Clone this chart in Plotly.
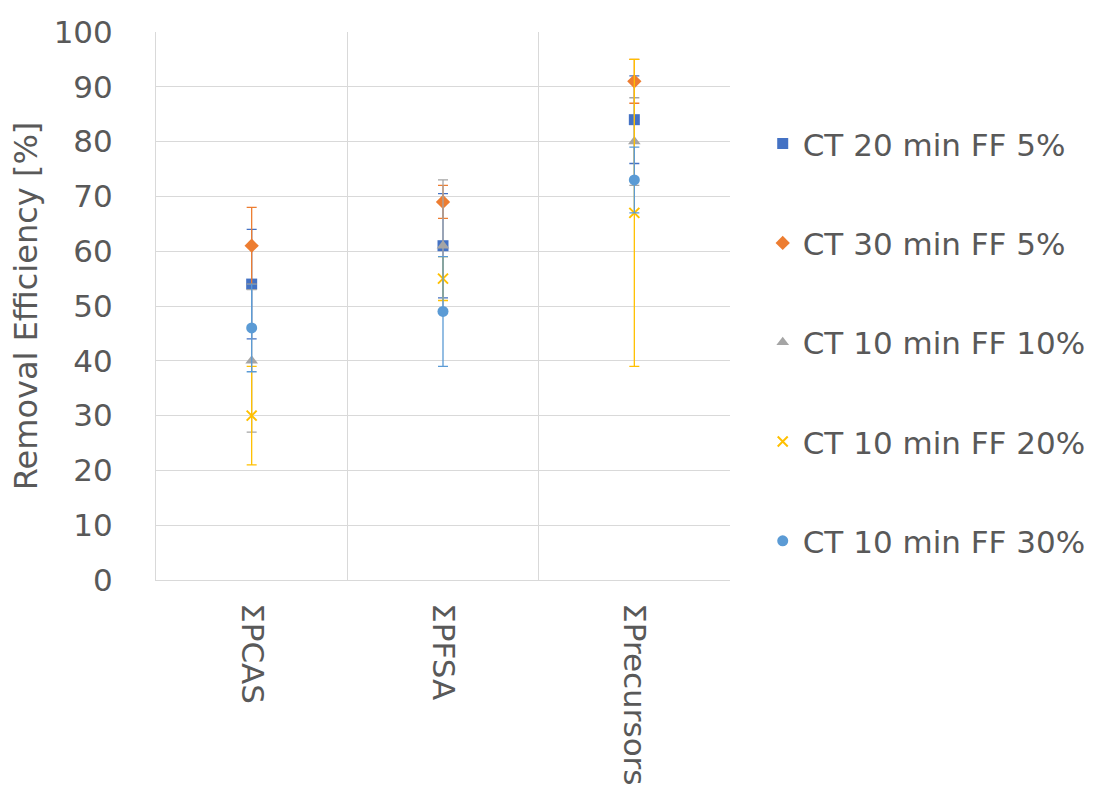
import plotly.graph_objects as go

categories = ["ΣPCAS", "ΣPFSA", "ΣPrecursors"]
series_names = ["CT 20 min FF 5%", "CT 30 min FF 5%", "CT 10 min FF 10%",
                "CT 10 min FF 20%", "CT 10 min FF 30%"]
ct20_ff5 = [54, 61, 84]
ct20_ff5_err = [10, 9.5, 8]
ct30_ff5 = [61, 69, 91]
ct30_ff5_err = [7, 3, 4]
ct10_ff10 = [40, 61, 80]
ct10_ff10_err = [13, 12, 8]
ct10_ff20 = [30, 55, 67]
ct10_ff20_err = [9, 4, 28]
ct10_ff30 = [46, 49, 73]
ct10_ff30_err = [8, 10, 6]

values = [ct20_ff5, ct30_ff5, ct10_ff10, ct10_ff20, ct10_ff30]
errors = [ct20_ff5_err, ct30_ff5_err, ct10_ff10_err, ct10_ff20_err, ct10_ff30_err]
colors = ["#4472C4", "#ED7D31", "#A5A5A5", "#FFC000", "#5B9BD5"]
symbols = ["square", "diamond", "triangle-up", "x-thin", "circle"]
sizes = [11, 11, 11, 10, 11]

FONT = "DejaVu Sans"
TXT = "#595959"

fig = go.Figure()
for i in range(5):
    marker = dict(color=colors[i], symbol=symbols[i], size=sizes[i])
    if symbols[i] == "x-thin":
        marker["line"] = dict(color=colors[i], width=2)
    fig.add_trace(go.Scatter(
        x=categories, y=values[i], mode="markers", name=series_names[i],
        legendgroup=f"g{i}",
        marker=marker,
        error_y=dict(type="data", array=errors[i], symmetric=True,
                     color=colors[i], thickness=1.3, width=5),
    ))

fig.update_layout(
    width=1099, height=798,
    margin=dict(l=156, r=369, t=32, b=218, autoexpand=False),
    paper_bgcolor="white", plot_bgcolor="white",
    font=dict(family=FONT, color=TXT, size=31),
    showlegend=True,
    legend=dict(x=1.057, y=0.845, xanchor="left", yanchor="top",
                font=dict(size=31, color=TXT, family=FONT),
                tracegroupgap=56, traceorder="grouped",
                itemwidth=30, bgcolor="rgba(0,0,0,0)"),
    xaxis=dict(type="category", tickson="boundaries", showgrid=True,
               gridcolor="#D9D9D9", gridwidth=1, tickangle=90,
               ticks="", showline=True, linecolor="#D9D9D9", linewidth=1,
               range=[-0.5, 2.5], ticklabelstandoff=16,
               tickfont=dict(size=31, color=TXT, family=FONT)),
    yaxis=dict(range=[0, 100], dtick=10, showgrid=True, gridcolor="#D9D9D9",
               gridwidth=1, zeroline=False, showline=True, linecolor="#D9D9D9",
               ticks="", ticklabelstandoff=36,
               tickfont=dict(size=31, color=TXT, family=FONT),
               title=dict(text="Removal Efficiency [%]", standoff=6,
                          font=dict(size=32, color=TXT, family=FONT))),
)

fig.write_html("out.html")
